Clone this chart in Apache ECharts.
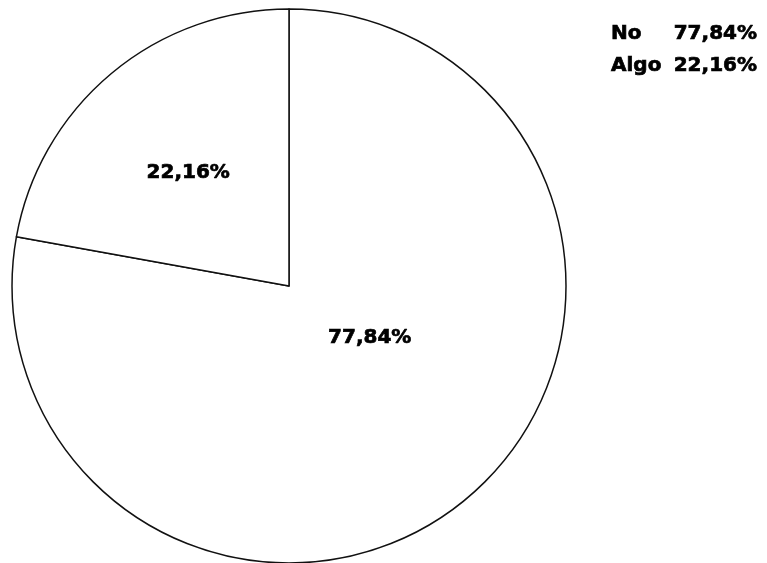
<!DOCTYPE html>
<html>
<head>
<meta charset="utf-8">
<style>
  html, body { margin: 0; padding: 0; background: #ffffff; }
  #chart { width: 767px; height: 563px; }
</style>
<script src="https://cdn.jsdelivr.net/npm/echarts@6/dist/echarts.min.js"></script>
</head>
<body>
<div id="chart"></div>
<script>
// Data
const categories = ['No', 'Algo'];
const values = [77.84, 22.16];

// Label offsets (style only)
const labelShiftX = [-10, -10];
const labelShiftY = [-57, -5];

function fmt(v) { return v.toFixed(2).replace('.', ',') + '%'; }

const chart = echarts.init(document.getElementById('chart'), null, { renderer: 'canvas' });

const font = '"DejaVu Sans", Arial, sans-serif';
const heavy = { textBorderColor: '#000', textBorderWidth: 0.7 };

chart.setOption({
  animation: false,
  backgroundColor: '#ffffff',
  legend: {
    orient: 'vertical',
    left: 601,
    top: 18,
    icon: 'none',
    itemWidth: 0,
    itemHeight: 20,
    itemGap: 12,
    selectedMode: false,
    data: categories,
    formatter: function (name) {
      const i = categories.indexOf(name);
      return '{n|' + name + '}{v|' + fmt(values[i]) + '}';
    },
    textStyle: Object.assign({
      fontFamily: font,
      fontWeight: 'bold',
      fontSize: 20,
      color: '#000',
      rich: {
        n: Object.assign({ width: 62, fontFamily: font, fontWeight: 'bold', fontSize: 20, color: '#000', lineHeight: 20 }, heavy),
        v: Object.assign({ width: 84, align: 'right', fontFamily: font, fontWeight: 'bold', fontSize: 20, color: '#000', lineHeight: 20 }, heavy)
      }
    }, heavy)
  },
  series: [{
    type: 'pie',
    center: [289, 286],
    radius: [0, 277],
    startAngle: 90,
    clockwise: true,
    silent: true,
    emphasis: { disabled: true },
    itemStyle: { color: '#ffffff', borderColor: '#111', borderWidth: 1.5 },
    label: Object.assign({
      show: true,
      position: 'inside',
      fontFamily: font,
      fontWeight: 'bold',
      fontSize: 20,
      color: '#000',
      formatter: function (p) { return fmt(p.value); }
    }, heavy),
    labelLine: { show: false },
    labelLayout: function (params) {
      return { dx: labelShiftX[params.dataIndex], dy: labelShiftY[params.dataIndex] };
    },
    data: categories.map(function (c, i) { return { name: c, value: values[i] }; })
  }]
});
</script>
</body>
</html>
